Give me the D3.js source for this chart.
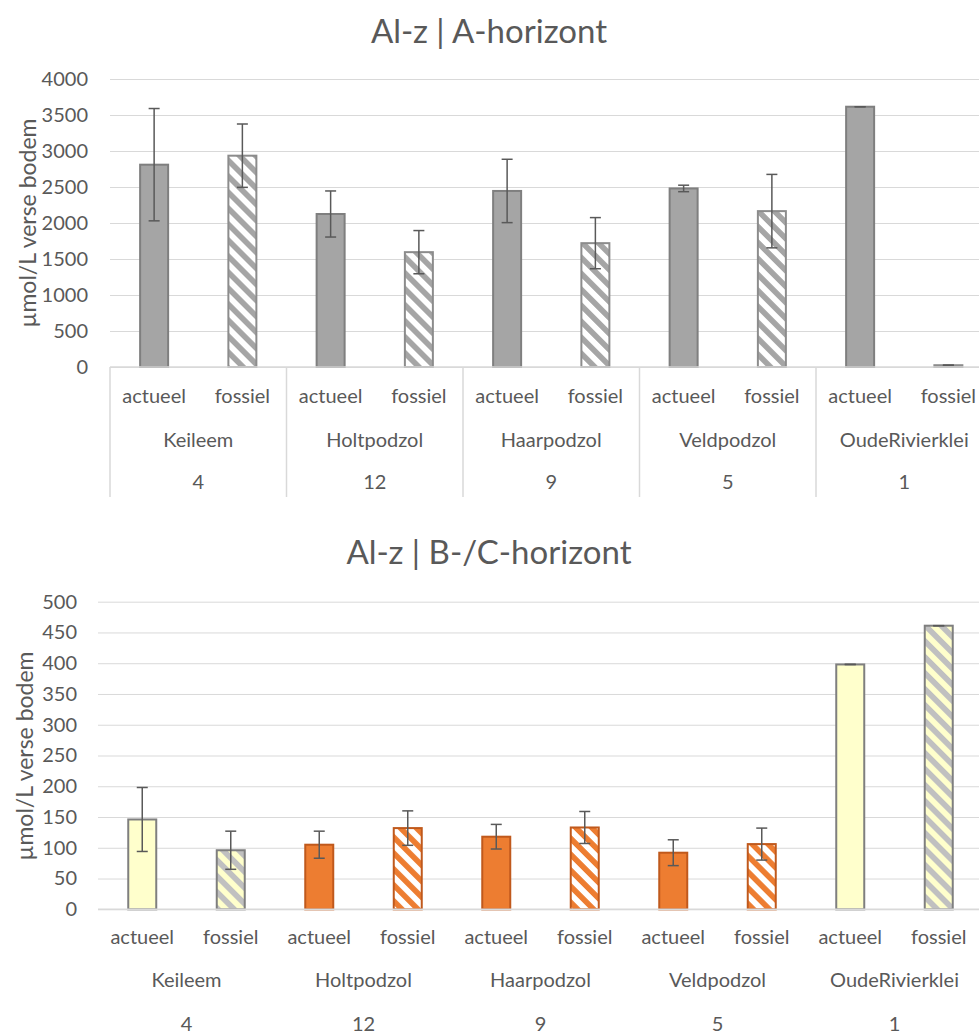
<!DOCTYPE html>
<html>
<head>
<meta charset="utf-8">
<script src="https://cdn.jsdelivr.net/npm/d3@7"></script>
<style>
  body { margin: 0; background: #fff; }
  text { font-family: Lato, "Open Sans", sans-serif; fill: #595959; }
  .grid line { stroke: #d9d9d9; stroke-width: 1; }
  .grid .domain { display: none; }
</style>
</head>
<body>
<svg id="chart" width="979" height="1034"></svg>
<script>
// data
var groups = ["Keileem", "Holtpodzol", "Haarpodzol", "Veldpodzol", "OudeRivierklei"];
var counts = ["4", "12", "9", "5", "1"];
var types = ["actueel", "fossiel"];

// A-horizont
var aActueel = [2810, 2125, 2445, 2480, 3615];
var aActueelErr = [780, 320, 440, 45, 0];
var aFossiel = [2935, 1595, 1720, 2165, 25];
var aFossielErr = [440, 300, 355, 510, 0];
var aTicks = [0, 500, 1000, 1500, 2000, 2500, 3000, 3500, 4000];

// B-/C-horizont
var bActueel = [146, 105, 118, 92, 398];
var bActueelErr = [52, 22, 20, 21, 0];
var bFossiel = [96, 132, 133, 106, 461];
var bFossielErr = [31, 28, 26, 26, 0];
var bTicks = [0, 50, 100, 150, 200, 250, 300, 350, 400, 450, 500];

var svg = d3.select("#chart");
var defs = svg.append("defs");

// diagonal stripe patterns
function stripes(id, bg, fg) {
    var p = defs.append("pattern")
        .attr("id", id)
        .attr("patternUnits", "userSpaceOnUse")
        .attr("width", 11.3)
        .attr("height", 11.3)
        .attr("patternTransform", "rotate(-45)");
    p.append("rect").attr("width", 11.3).attr("height", 11.3).attr("fill", bg);
    p.append("rect").attr("width", 5.6).attr("height", 11.3).attr("fill", fg);
}
stripes("grayStripe", "#ffffff", "#a5a5a5");
stripes("yellowStripe", "#c0c0c0", "#ffffcc");
stripes("orangeStripe", "#ffffff", "#ed7d31");

function drawChart(cfg) {
    var g = svg.append("g");

    var rows = [];
    groups.forEach(function (grp, i) {
        rows.push({ group: grp, type: "actueel", value: cfg.actueel[i], err: cfg.actueelErr[i], i: i });
        rows.push({ group: grp, type: "fossiel", value: cfg.fossiel[i], err: cfg.fossielErr[i], i: i });
    });

    var x0 = d3.scaleBand().domain(groups).range([cfg.left, cfg.right]);
    var x1 = d3.scaleBand().domain(types).range([0, x0.bandwidth()]);
    var y = d3.scaleLinear().domain([0, d3.max(cfg.ticks)]).range([cfg.bottom, cfg.top]);
    var barW = cfg.barW;

    // title
    g.append("text")
        .text(cfg.title)
        .attr("x", 489)
        .attr("y", cfg.titleY)
        .attr("text-anchor", "middle")
        .style("font-size", "33px");

    // gridlines
    g.append("g")
        .attr("class", "grid")
        .attr("transform", "translate(" + cfg.left + ",0)")
        .call(d3.axisLeft(y).tickValues(cfg.ticks).tickSize(-(cfg.right - cfg.left)).tickFormat(""));

    // y axis labels
    var yax = g.append("g")
        .attr("transform", "translate(" + cfg.tickX + ",0)")
        .call(d3.axisLeft(y).tickValues(cfg.ticks).tickSize(0).tickPadding(0).tickFormat(d3.format("d")));
    yax.select(".domain").remove();
    yax.selectAll("text").style("font-size", "20px");
    yax.attr("font-family", null);

    // y title
    g.append("text")
        .text("µmol/L verse bodem")
        .attr("transform", "translate(" + cfg.yTitleX + "," + cfg.yTitleY + ") rotate(-90)")
        .attr("text-anchor", "middle")
        .attr("dy", "0.35em")
        .style("font-size", "23px");

    // bars
    g.selectAll(".bar")
        .data(rows)
        .enter()
        .append("rect")
        .attr("x", function (d) { return x0(d.group) + x1(d.type) + x1.bandwidth() / 2 - barW / 2; })
        .attr("width", barW)
        .attr("y", function (d) { return y(d.value); })
        .attr("height", function (d) { return cfg.bottom - y(d.value); })
        .attr("fill", function (d) { return cfg.style(d).fill; })
        .attr("stroke", function (d) { return cfg.style(d).stroke; })
        .attr("stroke-width", 2);

    // x axis line
    g.append("line")
        .attr("x1", cfg.left).attr("x2", cfg.right)
        .attr("y1", cfg.bottom).attr("y2", cfg.bottom)
        .attr("stroke", "#d9d9d9").attr("stroke-width", 1.5);

    // error bars
    var eb = g.selectAll(".err")
        .data(rows)
        .enter()
        .append("g")
        .attr("transform", function (d) { return "translate(" + (x0(d.group) + x1(d.type) + x1.bandwidth() / 2) + ",0)"; });
    eb.append("line")
        .attr("y1", function (d) { return y(d.value + d.err); })
        .attr("y2", function (d) { return y(d.value - d.err); })
        .attr("stroke", "#595959").attr("stroke-width", 1.5);
    eb.append("line")
        .attr("x1", -5.5).attr("x2", 5.5)
        .attr("y1", function (d) { return y(d.value + d.err); })
        .attr("y2", function (d) { return y(d.value + d.err); })
        .attr("stroke", "#595959").attr("stroke-width", 1.5);
    eb.append("line")
        .attr("x1", -5.5).attr("x2", 5.5)
        .attr("y1", function (d) { return y(d.value - d.err); })
        .attr("y2", function (d) { return y(d.value - d.err); })
        .attr("stroke", "#595959").attr("stroke-width", 1.5);

    // category labels
    g.selectAll(".typeLabel")
        .data(rows)
        .enter()
        .append("text")
        .text(function (d) { return d.type; })
        .attr("x", function (d) { return x0(d.group) + x1(d.type) + x1.bandwidth() / 2; })
        .attr("y", cfg.labelY[0])
        .attr("dy", "0.35em")
        .attr("text-anchor", "middle")
        .style("font-size", "20px");

    g.selectAll(".groupLabel")
        .data(groups)
        .enter()
        .append("text")
        .text(function (d) { return d; })
        .attr("x", function (d) { return x0(d) + x0.bandwidth() / 2; })
        .attr("y", cfg.labelY[1])
        .attr("dy", "0.35em")
        .attr("text-anchor", "middle")
        .style("font-size", "20px");

    g.selectAll(".countLabel")
        .data(counts)
        .enter()
        .append("text")
        .text(function (d) { return d; })
        .attr("x", function (d, i) { return x0(groups[i]) + x0.bandwidth() / 2; })
        .attr("y", cfg.labelY[2])
        .attr("dy", "0.35em")
        .attr("text-anchor", "middle")
        .style("font-size", "20px");

    if (cfg.separators) {
        g.selectAll(".sep")
            .data(groups)
            .enter()
            .append("line")
            .attr("x1", function (d) { return x0(d); })
            .attr("x2", function (d) { return x0(d); })
            .attr("y1", cfg.bottom)
            .attr("y2", cfg.sepBottom)
            .attr("stroke", "#d9d9d9").attr("stroke-width", 1.5);
    }
}

drawChart({
    title: "Al-z | A-horizont",
    titleY: 43,
    actueel: aActueel, actueelErr: aActueelErr,
    fossiel: aFossiel, fossielErr: aFossielErr,
    ticks: aTicks,
    left: 110, right: 992.5, top: 79, bottom: 367,
    barW: 28,
    tickX: 88,
    yTitleX: 28, yTitleY: 223,
    labelY: [396, 440, 482],
    separators: true, sepBottom: 497,
    style: function (d) {
        return d.type === "actueel"
            ? { fill: "#a5a5a5", stroke: "#7f7f7f" }
            : { fill: "url(#grayStripe)", stroke: "#8c8c8c" };
    }
});

drawChart({
    title: "Al-z | B-/C-horizont",
    titleY: 564,
    actueel: bActueel, actueelErr: bActueelErr,
    fossiel: bFossiel, fossielErr: bFossielErr,
    ticks: bTicks,
    left: 98, right: 983, top: 601.7, bottom: 909.3,
    barW: 28,
    tickX: 77,
    yTitleX: 25, yTitleY: 756,
    labelY: [937, 980, 1024],
    separators: false,
    style: function (d) {
        var yellow = d.group === "Keileem" || d.group === "OudeRivierklei";
        if (yellow) {
            return d.type === "actueel"
                ? { fill: "#ffffcc", stroke: "#7f7f7f" }
                : { fill: "url(#yellowStripe)", stroke: "#7f7f7f" };
        }
        return d.type === "actueel"
            ? { fill: "#ed7d31", stroke: "#c0591c" }
            : { fill: "url(#orangeStripe)", stroke: "#c0591c" };
    }
});
</script>
</body>
</html>
